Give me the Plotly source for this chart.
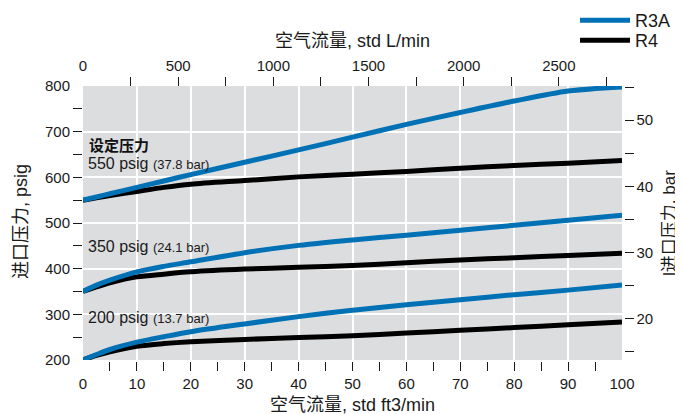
import plotly.graph_objects as go

# ---------------- data ----------------
flow_scfm = [0, 2.5, 5, 10, 15, 20, 30, 40, 50, 60, 70, 80, 90, 100]

r3a_550 = [550, 557, 564, 578, 592, 606, 633, 660, 688, 716, 742, 767, 789, 798]
r4_550 = [550, 555, 560, 569, 578, 585, 593, 601, 607, 613, 620, 626, 631, 637]

r3a_350 = [350, 364, 375, 393, 405, 415, 435, 451, 463, 473, 484, 495, 506, 517]
r4_350 = [350, 360, 369, 382, 388, 393, 399, 403, 407, 413, 419, 424, 429, 434]

r3a_200 = [200, 212, 223, 239, 251, 262, 279, 295, 309, 321, 332, 343, 353, 364]
r4_200 = [200, 210, 218, 230, 236, 240, 245, 249, 253, 259, 265, 271, 277, 283]

psig_edge = [200, 800]
psig_ticks = [250, 300, 350, 400, 450, 500, 550, 600, 650, 700, 750]
psig_text = ["", "300", "", "400", "", "500", "", "600", "", "700", ""]
bar_ticks = [15, 20, 25, 30, 35, 40, 45, 50, 55]
bar_text = ["", "20", "", "30", "", "40", "", "50", ""]
scfm_edge = [0, 100]
scfm_ticks = [5, 10, 15, 20, 25, 30, 35, 40, 45, 50, 55, 60, 65, 70, 75, 80, 85, 90, 95]
scfm_text = ["", "10", "", "20", "", "30", "", "40", "", "50", "", "60", "", "70", "", "80",
             "", "90", ""]
scfm_grid = [10, 20, 30, 40, 50, 60, 70, 80, 90]
psig_grid = [300, 400, 500, 600, 700]
lpm_edge = [0]
lpm_ticks = [250, 500, 750, 1000, 1250, 1500, 1750, 2000, 2250, 2500, 2750]
lpm_text = ["", "500", "", "1000", "", "1500", "", "2000", "", "2500", ""]

set_labels = ["550 psig", "350 psig", "200 psig"]
set_bar = ["(37.8 bar)", "(24.1 bar)", "(13.7 bar)"]

PSI_PER_BAR = 14.5038
LPM_PER_SCFM = 28.3168

BLUE = "#0071b4"
BLACK = "#000000"
FONT = "Liberation Sans, Noto Sans CJK SC, sans-serif"
INK = "#1a1a1a"

# the page body has an 8px margin; size the figure so it fills the window exactly
VIEW_W, VIEW_H, OFF = 683, 414, 8
W, H = VIEW_W - OFF, VIEW_H - OFF

fig = go.Figure()

pairs = [(r4_550, r3a_550), (r4_350, r3a_350), (r4_200, r3a_200)]
for i, (blk, blu) in enumerate(pairs):
    fig.add_trace(go.Scatter(x=flow_scfm, y=blk, mode="lines", name="R4",
                             line=dict(color=BLACK, width=5, shape="spline", smoothing=0.8),
                             legendgroup="R4", showlegend=(i == 0), legend="legend2"))
    fig.add_trace(go.Scatter(x=flow_scfm, y=blu, mode="lines", name="R3A",
                             line=dict(color=BLUE, width=5, shape="spline", smoothing=0.8),
                             legendgroup="R3A", showlegend=(i == 0), legend="legend"))


def px_x(p):
    """window pixel x -> paper fraction"""
    return (p - OFF) / W


def px_y(p):
    """window pixel y -> paper fraction"""
    return (VIEW_H - p) / H


xdom = [px_x(83), px_x(622)]
ydom = [px_y(360), px_y(86)]

tickfont = dict(family=FONT, size=15, color=INK)
clear = "rgba(0,0,0,0)"
common = dict(showgrid=False, zeroline=False, showline=False, fixedrange=True,
              automargin=False, tickfont=tickfont)
legend_style = dict(xanchor="left", yanchor="top",
                    font=dict(family=FONT, size=18, color=INK),
                    bgcolor="rgba(0,0,0,0)", itemwidth=50)

fig.update_layout(
    width=W, height=H, autosize=False,
    margin=dict(l=0, r=0, t=0, b=0, autoexpand=False),
    paper_bgcolor="white", plot_bgcolor="#dcdddf",
    font=dict(family=FONT, color=INK),
    xaxis=dict(domain=xdom, range=[0, 100], tickvals=scfm_grid, showticklabels=False,
               ticks="", showgrid=True, gridcolor="white", gridwidth=1.5,
               zeroline=False, showline=False, automargin=False),
    yaxis=dict(domain=ydom, range=[200, 800], tickvals=psig_grid, showticklabels=False,
               ticks="", showgrid=True, gridcolor="white", gridwidth=1.5,
               zeroline=False, showline=False, automargin=False),
    xaxis2=dict(overlaying="x", anchor="free", position=px_y(360.5), side="bottom",
                range=[0, 100], tickvals=scfm_ticks, ticktext=scfm_text, ticks="outside",
                ticklen=9.5, tickwidth=1.3, tickcolor=INK, **common),
    xaxis3=dict(overlaying="x", anchor="free", position=px_y(360.5), side="bottom",
                range=[0, 100], tickvals=scfm_edge, ticks="outside", ticklen=9.5,
                tickcolor=clear, **common),
    xaxis4=dict(overlaying="x", anchor="free", position=px_y(85.5), side="top",
                range=[0, 100 * LPM_PER_SCFM], tickvals=lpm_ticks, ticktext=lpm_text,
                ticks="outside", ticklen=9, tickwidth=1.3, tickcolor=INK, **common),
    xaxis5=dict(overlaying="x", anchor="free", position=px_y(85.5), side="top",
                range=[0, 100 * LPM_PER_SCFM], tickvals=lpm_edge, ticks="outside", ticklen=9,
                tickcolor=clear, **common),
    yaxis2=dict(overlaying="y", anchor="free", position=px_x(82), side="left",
                range=[200, 800], tickvals=psig_ticks, ticktext=psig_text, ticks="outside",
                ticklen=9, tickwidth=1.3, tickcolor=INK, **common),
    yaxis3=dict(overlaying="y", anchor="free", position=px_x(82), side="left",
                range=[200, 800], tickvals=psig_edge, ticks="outside", ticklen=9,
                tickcolor=clear, **common),
    yaxis4=dict(overlaying="y", anchor="free", position=px_x(624), side="right",
                range=[200 / PSI_PER_BAR, 800 / PSI_PER_BAR], tickvals=bar_ticks,
                ticktext=bar_text, ticks="outside", ticklen=8.5, tickwidth=1.3,
                tickcolor=INK, **common),
    legend=dict(x=px_x(575), y=px_y(2), **legend_style),
    legend2=dict(x=px_x(575), y=px_y(22), **legend_style),
    showlegend=True,
)

for xa, ya in [("x2", "y2"), ("x3", "y3"), ("x4", "y4"), ("x5", "y2")]:
    fig.add_trace(go.Scatter(x=[None], y=[None], xaxis=xa, yaxis=ya, showlegend=False,
                             hoverinfo="skip"))

ann = []
title_font = dict(family=FONT, size=18, color=INK)
ann.append(dict(text="空气流量, std L/min", x=px_x(352), y=px_y(41), xref="paper", yref="paper",
                showarrow=False, xanchor="center", yanchor="middle", font=title_font))
ann.append(dict(text="空气流量, std ft3/min", x=px_x(352), y=px_y(405), xref="paper", yref="paper",
                showarrow=False, xanchor="center", yanchor="middle", font=title_font))
ann.append(dict(text="进口压力, psig", x=px_x(21), y=px_y(222), xref="paper", yref="paper",
                showarrow=False, xanchor="center", yanchor="middle", textangle=-90, font=title_font))
ann.append(dict(text="l进口压力, bar", x=px_x(670), y=px_y(223), xref="paper", yref="paper",
                showarrow=False, xanchor="center", yanchor="middle", textangle=-90,
                font=dict(family=FONT, size=17, color=INK)))
ann.append(dict(text="<b>设定压力</b>", x=px_x(87), y=px_y(145), xref="paper", yref="paper",
                showarrow=False, xanchor="left", yanchor="middle",
                font=dict(family=FONT, size=15, color="#111")))
for lab, bar, yy in zip(set_labels, set_bar, [163, 246, 317]):
    ann.append(dict(text=f"{lab} <span style='font-size:13px'>{bar}</span>",
                    x=px_x(86), y=px_y(yy), xref="paper", yref="paper",
                    showarrow=False, xanchor="left", yanchor="middle",
                    font=dict(family=FONT, size=16, color=INK)))
fig.update_layout(annotations=ann)

fig.write_html("out.html")
